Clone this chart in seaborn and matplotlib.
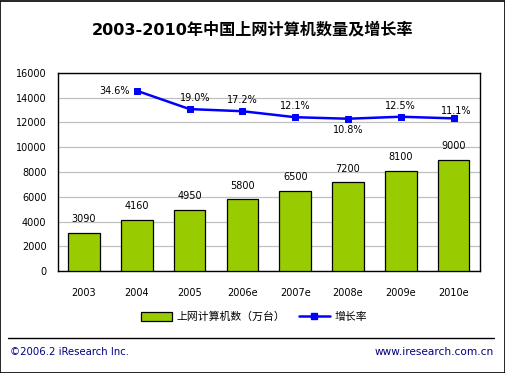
import matplotlib
matplotlib.use("Agg")
import matplotlib.pyplot as plt
import seaborn as sns
import numpy as np
import pandas as pd
from matplotlib.patches import Patch, Rectangle
from matplotlib.lines import Line2D

# ---- data ----
years = ["2003", "2004", "2005", "2006e", "2007e", "2008e", "2009e", "2010e"]
computers = [3090, 4160, 4950, 5800, 6500, 7200, 8100, 9000]
growth = [np.nan, 34.6, 19.0, 17.2, 12.1, 10.8, 12.5, 11.1]
growth_labels = ["", "34.6%", "19.0%", "17.2%", "12.1%", "10.8%", "12.5%", "11.1%"]
title = "2003-2010年中国上网计算机数量及增长率"
bar_name = "上网计算机数（万台）"
line_name = "增长率"
footer_left = "©2006.2 iResearch Inc."
footer_right = "www.iresearch.com.cn"

# label offsets in points (style)
pct_offsets = [(0, 0), (-5, 0), (4, 8), (0, 8), (0, 8), (0, -8), (0, 8), (2, 5)]
pct_ha = ["center", "right", "center", "center", "center", "center", "center", "center"]

sns.set_style("white")
plt.rcParams["font.family"] = ["DejaVu Sans", "Noto Sans CJK SC"]
plt.rcParams["text.color"] = "black"
plt.rcParams["xtick.color"] = "black"
plt.rcParams["ytick.color"] = "black"

df = pd.DataFrame({"year": years, "computers": computers, "growth": growth,
                   "idx": np.arange(len(years))})

fig = plt.figure(figsize=(5.06, 3.73), dpi=100)
ax = fig.add_axes([57.6 / 506, 102 / 373, 422.4 / 506, 198 / 373])

sns.barplot(data=df, x="year", y="computers", color="#99CC00", edgecolor="black",
            linewidth=0.9, width=0.6, saturation=1, ax=ax, zorder=3)
ax.set_ylim(0, 16000)
ax.set_xlim(-0.5, len(years) - 0.5)
ax.set_yticks(range(0, 16001, 2000))
ax.yaxis.grid(True, color="#C0C0C0", linewidth=0.9, zorder=0)
ax.set_axisbelow(True)
ax.set_xlabel("")
ax.set_ylabel("")
ax.tick_params(axis="both", length=0, labelsize=7, pad=8, colors="black")
ax.tick_params(axis="x", pad=12)
for s in ax.spines.values():
    s.set_color("black")
    s.set_linewidth(1.0)

for i, v in enumerate(computers):
    ax.annotate(str(v), (i, v), xytext=(0, 6), textcoords="offset points",
                ha="center", va="bottom", fontsize=7, color="black")

ax2 = ax.twinx()
sns.lineplot(data=df, x="idx", y="growth", color="#0000FF", marker="s",
             markersize=5, markeredgecolor="#0000FF", linewidth=1.8, ax=ax2)
ax2.set_ylim(-118.7, 49.7)
ax2.set_xlim(-0.5, len(years) - 0.5)
ax2.set_yticks([])
ax2.set_ylabel("")
ax2.set_xlabel("")
for s in ax2.spines.values():
    s.set_visible(False)
for i, (g, lab) in enumerate(zip(growth, growth_labels)):
    if lab:
        ax2.annotate(lab, (i, g), xytext=pct_offsets[i], textcoords="offset points",
                     ha=pct_ha[i], va="center", fontsize=7, color="black")

fig.text(0.5, 1 - 30 / 373, title, ha="center", va="center", fontsize=11.6,
         fontweight="bold", color="black")

handles = [Patch(facecolor="#99CC00", edgecolor="black", linewidth=0.9),
           Line2D([0], [0], color="#0000FF", marker="s", markersize=4, linewidth=1.8)]
fig.legend(handles, [bar_name, line_name], loc="center",
           bbox_to_anchor=(254 / 506, 1 - 317 / 373), ncol=2, frameon=False,
           fontsize=7.8, handlelength=2.9, handleheight=0.8, columnspacing=1.2,
           handletextpad=0.4)

fig.add_artist(Line2D([8 / 506, 494 / 506], [1 - 338 / 373, 1 - 338 / 373],
                      color="black", linewidth=1, transform=fig.transFigure))
fig.text(10 / 506, 1 - 352 / 373, footer_left, ha="left", va="center",
         fontsize=7.3, color="#000080")
fig.text(494 / 506, 1 - 352 / 373, footer_right, ha="right", va="center",
         fontsize=7.6, color="#000080")
fig.add_artist(Rectangle((0.5 / 506, 0.5 / 373), 505 / 506, 372 / 373,
                         fill=False, edgecolor="black", linewidth=1.2,
                         transform=fig.transFigure))

fig.savefig("out.png", dpi=100)
